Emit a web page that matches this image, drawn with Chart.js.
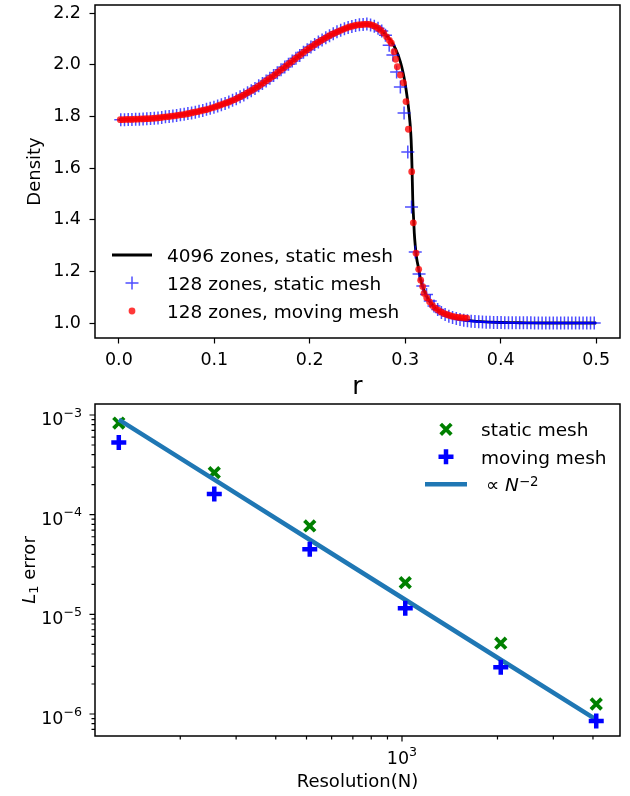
<!DOCTYPE html>
<html>
<head>
<meta charset="utf-8">
<title>Density profile and L1 error convergence</title>
<script src="https://cdn.jsdelivr.net/npm/chart.js@4.4.1/dist/chart.umd.min.js"></script>
<style>
  html, body { margin: 0; padding: 0; background: #fff; }
  #wrap { position: relative; width: 630px; height: 796px; }
  canvas { position: absolute; left: 0; }
  #densityChart { top: 0; }
  #errorChart { top: 398px; }
</style>
</head>
<body>
<div id="wrap">
  <canvas id="densityChart" width="630" height="398"></canvas>
  <canvas id="errorChart" width="630" height="398"></canvas>
</div>
<script>
// ---- Top panel: density profiles ----

// 4096 zones, static mesh (reference solution)
const exactR = [
  0.000, 0.010, 0.020, 0.030, 0.040, 0.050, 0.060, 0.070, 0.080, 0.090,
  0.100, 0.110, 0.120, 0.130, 0.140, 0.150, 0.160, 0.170, 0.180, 0.190,
  0.200, 0.210, 0.220, 0.230, 0.240, 0.250, 0.260, 0.265, 0.270, 0.275,
  0.280, 0.285, 0.290, 0.295, 0.298, 0.300, 0.302, 0.304, 0.3058, 0.3065,
  0.3071, 0.3079, 0.3087, 0.3095, 0.3105, 0.312, 0.3137, 0.316, 0.3208, 0.325,
  0.330, 0.335, 0.340, 0.350, 0.360, 0.370, 0.380, 0.400, 0.420, 0.450, 0.500
];
const exactRho = [
  1.787, 1.788, 1.789, 1.791, 1.794, 1.798, 1.803, 1.809, 1.816, 1.825,
  1.835, 1.848, 1.863, 1.881, 1.902, 1.926, 1.952, 1.980, 2.009, 2.038,
  2.065, 2.090, 2.111, 2.129, 2.144, 2.154, 2.157, 2.154, 2.146, 2.133,
  2.114, 2.092, 2.060, 2.010, 1.965, 1.925, 1.875, 1.815, 1.735, 1.680,
  1.605, 1.476, 1.410, 1.348, 1.300, 1.250, 1.217, 1.170, 1.116, 1.087,
  1.063, 1.047, 1.036, 1.022, 1.013, 1.008, 1.005, 1.002, 1.001, 1.000, 1.000
];

// 128 zones, static mesh
const staticR = [
  0.0020, 0.0059, 0.0098, 0.0137, 0.0176, 0.0215, 0.0254, 0.0293,
  0.0332, 0.0371, 0.0410, 0.0449, 0.0488, 0.0527, 0.0566, 0.0605,
  0.0645, 0.0684, 0.0723, 0.0762, 0.0801, 0.0840, 0.0879, 0.0918,
  0.0957, 0.0996, 0.1035, 0.1074, 0.1113, 0.1152, 0.1191, 0.1230,
  0.1270, 0.1309, 0.1348, 0.1387, 0.1426, 0.1465, 0.1504, 0.1543,
  0.1582, 0.1621, 0.1660, 0.1699, 0.1738, 0.1777, 0.1816, 0.1855,
  0.1895, 0.1934, 0.1973, 0.2012, 0.2051, 0.2090, 0.2129, 0.2168,
  0.2207, 0.2246, 0.2285, 0.2324, 0.2363, 0.2402, 0.2441, 0.2480,
  0.2520, 0.2559, 0.2598, 0.2637, 0.2676, 0.2715, 0.2754, 0.2793,
  0.2832, 0.2871, 0.2910, 0.2949, 0.2988, 0.3027, 0.3066, 0.3105,
  0.3145, 0.3184, 0.3223, 0.3262, 0.3301, 0.3340, 0.3379, 0.3418,
  0.3457, 0.3496, 0.3535, 0.3574, 0.3613, 0.3652, 0.3691, 0.3730,
  0.3770, 0.3809, 0.3848, 0.3887, 0.3926, 0.3965, 0.4004, 0.4043,
  0.4082, 0.4121, 0.4160, 0.4199, 0.4238, 0.4277, 0.4316, 0.4355,
  0.4395, 0.4434, 0.4473, 0.4512, 0.4551, 0.4590, 0.4629, 0.4668,
  0.4707, 0.4746, 0.4785, 0.4824, 0.4863, 0.4902, 0.4941, 0.4980
];
const staticRho = [
  1.787, 1.787, 1.788, 1.788, 1.789, 1.789, 1.790, 1.791,
  1.792, 1.793, 1.794, 1.796, 1.798, 1.799, 1.801, 1.803,
  1.806, 1.808, 1.811, 1.813, 1.816, 1.820, 1.823, 1.827,
  1.831, 1.835, 1.840, 1.845, 1.850, 1.856, 1.862, 1.868,
  1.876, 1.883, 1.891, 1.899, 1.908, 1.918, 1.927, 1.937,
  1.947, 1.958, 1.969, 1.980, 1.991, 2.002, 2.014, 2.025,
  2.036, 2.048, 2.058, 2.068, 2.078, 2.088, 2.096, 2.104,
  2.112, 2.120, 2.127, 2.133, 2.139, 2.144, 2.148, 2.152,
  2.155, 2.156, 2.157, 2.154, 2.149, 2.141, 2.130, 2.114,
  2.075, 2.037, 1.972, 1.914, 1.813, 1.662, 1.449, 1.275,
  1.190, 1.143, 1.110, 1.085, 1.066, 1.052, 1.041, 1.033,
  1.026, 1.021, 1.017, 1.014, 1.011, 1.009, 1.007, 1.006,
  1.005, 1.004, 1.003, 1.003, 1.002, 1.002, 1.002, 1.001,
  1.001, 1.001, 1.001, 1.001, 1.001, 1.001, 1.001, 1.000,
  1.000, 1.000, 1.000, 1.000, 1.000, 1.000, 1.000, 1.000,
  1.000, 1.000, 1.000, 1.000, 1.000, 1.000, 1.000, 1.000
];

// 128 zones, moving mesh
const movingR = [
  0.0015, 0.0045, 0.0075, 0.0105, 0.0135, 0.0165, 0.0195, 0.0225, 0.0255, 0.0285,
  0.0315, 0.0345, 0.0375, 0.0405, 0.0435, 0.0465, 0.0495, 0.0525, 0.0555, 0.0585,
  0.0615, 0.0645, 0.0675, 0.0705, 0.0735, 0.0765, 0.0795, 0.0825, 0.0855, 0.0885,
  0.0915, 0.0945, 0.0975, 0.1005, 0.1035, 0.1065, 0.1095, 0.1125, 0.1155, 0.1185,
  0.1215, 0.1245, 0.1275, 0.1305, 0.1335, 0.1365, 0.1395, 0.1425, 0.1455, 0.1485,
  0.1515, 0.1545, 0.1575, 0.1605, 0.1635, 0.1665, 0.1695, 0.1725, 0.1755, 0.1785,
  0.1815, 0.1845, 0.1875, 0.1905, 0.1935, 0.1965, 0.1995, 0.2025, 0.2055, 0.2085,
  0.2115, 0.2145, 0.2175, 0.2205, 0.2235, 0.2265, 0.2295, 0.2325, 0.2355, 0.2385,
  0.2415, 0.2445, 0.2475, 0.2505, 0.2535, 0.2565, 0.2595, 0.2625, 0.2655, 0.2685,
  0.2715, 0.2745, 0.2775, 0.2805, 0.2835,
  0.2855, 0.2883, 0.2900, 0.2917, 0.2950, 0.2980, 0.3008, 0.3033, 0.3068, 0.3085,
  0.3113, 0.3141, 0.3162, 0.3183, 0.3197,
  0.3225, 0.3255, 0.3285, 0.3315, 0.3345, 0.3375, 0.3405, 0.3435, 0.3465, 0.3495,
  0.3525, 0.3555, 0.3585, 0.3615, 0.3645
];
const movingRho = [
  1.787, 1.787, 1.788, 1.788, 1.788, 1.789, 1.789, 1.790, 1.790, 1.791,
  1.791, 1.792, 1.793, 1.794, 1.795, 1.797, 1.798, 1.799, 1.801, 1.802,
  1.804, 1.806, 1.807, 1.809, 1.811, 1.814, 1.816, 1.818, 1.821, 1.824,
  1.826, 1.829, 1.833, 1.836, 1.840, 1.844, 1.848, 1.852, 1.856, 1.861,
  1.865, 1.871, 1.876, 1.882, 1.889, 1.895, 1.901, 1.908, 1.915, 1.922,
  1.930, 1.938, 1.946, 1.953, 1.961, 1.970, 1.979, 1.987, 1.996, 2.005,
  2.013, 2.022, 2.031, 2.039, 2.048, 2.056, 2.064, 2.071, 2.079, 2.086,
  2.093, 2.099, 2.106, 2.112, 2.118, 2.123, 2.128, 2.133, 2.138, 2.142,
  2.146, 2.149, 2.152, 2.154, 2.155, 2.156, 2.157, 2.156, 2.153, 2.148,
  2.141, 2.133, 2.122, 2.108, 2.094,
  2.083, 2.050, 2.021, 1.992, 1.960, 1.930, 1.857, 1.750, 1.586, 1.388,
  1.270, 1.208, 1.166, 1.141, 1.115,
  1.098, 1.082, 1.068, 1.058, 1.050, 1.043, 1.037, 1.033, 1.029, 1.026,
  1.024, 1.022, 1.021, 1.020, 1.019
];

// ---- Bottom panel: L1 error vs resolution ----
const resolution = [128, 256, 512, 1024, 2048, 4096];
const staticErr = [8.3e-4, 2.64e-4, 7.7e-5, 2.08e-5, 5.13e-6, 1.26e-6];
const movingErr = [5.3e-4, 1.61e-4, 4.49e-5, 1.15e-5, 2.95e-6, 8.5e-7];
const fitErr = [9.0e-4, 2.25e-4, 5.6e-5, 1.4e-5, 3.5e-6, 8.8e-7];

// log axis ticks and their labels
const errorTicks = [1e-6, 1e-5, 1e-4, 1e-3];
const errorTickLabels = [["10", "\u22126"], ["10", "\u22125"], ["10", "\u22124"], ["10", "\u22123"]];
const errorMinorTicks = [
  7e-7, 8e-7, 9e-7,
  2e-6, 3e-6, 4e-6, 5e-6, 6e-6, 7e-6, 8e-6, 9e-6,
  2e-5, 3e-5, 4e-5, 5e-5, 6e-5, 7e-5, 8e-5, 9e-5,
  2e-4, 3e-4, 4e-4, 5e-4, 6e-4, 7e-4, 8e-4, 9e-4
];
const resolutionTicks = [1000];
const resolutionTickLabels = [["10", "3"]];
const resolutionMinorTicks = [200, 300, 400, 500, 600, 700, 800, 900, 2000, 3000, 4000];

const FONT = '"DejaVu Sans", "Liberation Sans", sans-serif';
Chart.defaults.font.family = FONT;
Chart.defaults.color = "#000";

function pairs(xs, ys) {
  return xs.map((x, i) => ({ x: x, y: ys[i] }));
}

// fixed axis sizes, no extra label overhang padding
function fixY(s) {
  s.width = 95;
  s.paddingTop = 0;
  s.paddingBottom = 0;
}
function fixX(s) {
  s.height = 60;
  s.paddingLeft = 0;
  s.paddingRight = 0;
}

// draw a run of text pieces (normal / italic / super / sub) from x on baseline y
function drawParts(ctx, parts, x, y, size) {
  parts.forEach((p) => {
    if (p.dx) x += p.dx;
    if (!p.t) return;
    const s = p.sup || p.sub ? size * 0.72 : size;
    ctx.font = (p.italic ? "italic " : "") + s + "px " + FONT;
    let dy = 0;
    if (p.sup) dy = -(p.raise || 0.45) * size;
    if (p.sub) dy = 0.17 * size;
    ctx.fillText(p.t, x, y + dy);
    x += ctx.measureText(p.t).width;
  });
  return x;
}

function partsWidth(ctx, parts, size) {
  let w = 0;
  parts.forEach((p) => {
    if (p.dx) w += p.dx;
    if (!p.t) return;
    const s = p.sup || p.sub ? size * 0.72 : size;
    ctx.font = (p.italic ? "italic " : "") + s + "px " + FONT;
    w += ctx.measureText(p.t).width;
  });
  return w;
}

function drawMarker(ctx, style, x, y, r, stroke, fill, lw) {
  ctx.beginPath();
  if (style === "circle") {
    ctx.arc(x, y, r, 0, Math.PI * 2);
    ctx.fillStyle = fill;
    ctx.fill();
    return;
  }
  if (style === "crossRot") {
    const d = r * Math.SQRT1_2;
    ctx.moveTo(x - d, y - d);
    ctx.lineTo(x + d, y + d);
    ctx.moveTo(x - d, y + d);
    ctx.lineTo(x + d, y - d);
  } else {
    ctx.moveTo(x - r, y);
    ctx.lineTo(x + r, y);
    ctx.moveTo(x, y - r);
    ctx.lineTo(x, y + r);
  }
  ctx.strokeStyle = stroke;
  ctx.lineWidth = lw;
  ctx.stroke();
}

// full box round the plot area (matplotlib spines)
const framePlugin = {
  id: "frame",
  afterDatasetsDraw(chart) {
    const { ctx, chartArea: a } = chart;
    ctx.save();
    ctx.strokeStyle = "#000";
    ctx.lineWidth = 1.5;
    ctx.strokeRect(a.left, a.top, a.right - a.left, a.bottom - a.top);
    ctx.restore();
  },
};

// legend inside the axes, no frame
const figLegendPlugin = {
  id: "figLegend",
  afterDraw(chart, args, opts) {
    const ctx = chart.ctx;
    ctx.save();
    ctx.fillStyle = "#000";
    ctx.textBaseline = "alphabetic";
    chart.data.datasets.forEach((ds, i) => {
      const cy = opts.top + i * opts.rowGap;
      if (ds.showLine) {
        ctx.beginPath();
        ctx.moveTo(opts.sampleX - opts.sampleHalf, cy);
        ctx.lineTo(opts.sampleX + opts.sampleHalf, cy);
        ctx.strokeStyle = ds.borderColor;
        ctx.lineWidth = ds.borderWidth;
        ctx.stroke();
      } else {
        drawMarker(ctx, ds.pointStyle, opts.sampleX, cy, ds.pointRadius,
          ds.pointBorderColor, ds.pointBackgroundColor, ds.pointBorderWidth);
      }
      ctx.fillStyle = "#000";
      const parts = ds.mathLabel || [{ t: ds.label }];
      drawParts(ctx, parts, opts.textX, cy + 7, opts.fontSize);
    });
    ctx.restore();
  },
};

// ticks, tick labels and y label for the log-log panel
const logAxesPlugin = {
  id: "logAxes",
  afterDraw(chart) {
    const { ctx, chartArea: a, scales } = chart;
    const x = scales.x, y = scales.y;
    ctx.save();
    ctx.strokeStyle = "#000";
    ctx.lineWidth = 1.2;
    ctx.beginPath();
    errorMinorTicks.forEach((v) => {
      const py = y.getPixelForValue(v);
      ctx.moveTo(a.left - 3.5, py);
      ctx.lineTo(a.left, py);
    });
    errorTicks.forEach((v) => {
      const py = y.getPixelForValue(v);
      ctx.moveTo(a.left - 5.5, py);
      ctx.lineTo(a.left, py);
    });
    resolutionMinorTicks.forEach((v) => {
      const px = x.getPixelForValue(v);
      ctx.moveTo(px, a.bottom);
      ctx.lineTo(px, a.bottom + 3.5);
    });
    resolutionTicks.forEach((v) => {
      const px = x.getPixelForValue(v);
      ctx.moveTo(px, a.bottom);
      ctx.lineTo(px, a.bottom + 5.5);
    });
    ctx.stroke();

    ctx.fillStyle = "#000";
    ctx.textBaseline = "alphabetic";
    const size = 17.5;
    errorTicks.forEach((v, i) => {
      const py = y.getPixelForValue(v);
      const parts = [{ t: errorTickLabels[i][0] }, { t: errorTickLabels[i][1], sup: true, raise: 0.47 }];
      const w = partsWidth(ctx, parts, size);
      drawParts(ctx, parts, 82 - w, py + 10, size);
    });
    resolutionTicks.forEach((v, i) => {
      const px = x.getPixelForValue(v);
      const parts = [{ t: resolutionTickLabels[i][0] }, { t: resolutionTickLabels[i][1], sup: true, raise: 0.46 }];
      const w = partsWidth(ctx, parts, size);
      drawParts(ctx, parts, px - w / 2, a.bottom + 28, size);
    });

    // y label: L_1 error
    const label = [{ t: "L", italic: true }, { t: "1", sub: true }, { t: " error" }];
    const lw = partsWidth(ctx, label, 18);
    ctx.translate(34.5, (a.top + a.bottom) / 2);
    ctx.rotate(-Math.PI / 2);
    drawParts(ctx, label, -lw / 2, 0, 18);
    ctx.restore();
  },
};

// Density chart
new Chart(document.getElementById("densityChart"), {
  type: "scatter",
  data: {
    datasets: [
      {
        label: "4096 zones, static mesh",
        data: pairs(exactR, exactRho),
        showLine: true,
        borderColor: "#000000",
        borderWidth: 2.8,
        pointRadius: 0,
        cubicInterpolationMode: "monotone",
        order: 3,
      },
      {
        label: "128 zones, static mesh",
        data: pairs(staticR, staticRho),
        pointStyle: "cross",
        pointRadius: 6.5,
        pointBorderColor: "rgba(0, 0, 255, 0.7)",
        pointBorderWidth: 1.5,
        order: 2,
      },
      {
        label: "128 zones, moving mesh",
        data: pairs(movingR, movingRho),
        pointStyle: "circle",
        pointRadius: 3.4,
        pointBackgroundColor: "rgba(255, 0, 0, 0.78)",
        pointBorderWidth: 0,
        order: 1,
      },
    ],
  },
  options: {
    responsive: false,
    animation: false,
    devicePixelRatio: 1,
    events: [],
    layout: { autoPadding: false, padding: { left: 0, right: 10, top: 5, bottom: 0 } },
    plugins: {
      legend: { display: false },
      tooltip: { enabled: false },
      figLegend: { top: 255, rowGap: 28, sampleX: 132, sampleHalf: 20, textX: 167, fontSize: 18.5 },
    },
    scales: {
      x: {
        type: "linear",
        min: -0.025,
        max: 0.525,
        afterFit: fixX,
        border: { display: false },
        grid: { drawOnChartArea: false, drawTicks: true, tickLength: 5.5, tickWidth: 1.2, tickColor: "#000" },
        ticks: {
          stepSize: 0.1,
          includeBounds: false,
          padding: 6.5,
          font: { size: 17.5 },
          callback: (v) => v.toFixed(1),
        },
        title: { display: true, text: "r", font: { size: 25, lineHeight: 0.85 }, padding: 0 },
      },
      y: {
        type: "linear",
        min: 0.942,
        max: 2.231,
        afterFit: fixY,
        border: { display: false },
        grid: { drawOnChartArea: false, drawTicks: true, tickLength: 5.5, tickWidth: 1.2, tickColor: "#000" },
        ticks: {
          stepSize: 0.2,
          includeBounds: false,
          padding: 8.5,
          font: { size: 17.5 },
          callback: (v) => v.toFixed(1),
        },
        title: { display: true, text: "Density", font: { size: 18 }, padding: { top: 25, bottom: 0 } },
      },
    },
  },
  plugins: [framePlugin, figLegendPlugin],
});

// L1 error chart
new Chart(document.getElementById("errorChart"), {
  type: "scatter",
  data: {
    datasets: [
      {
        label: "static mesh",
        data: pairs(resolution, staticErr),
        pointStyle: "crossRot",
        pointRadius: 7.5,
        pointBorderColor: "#008000",
        pointBorderWidth: 3.8,
        order: 3,
      },
      {
        label: "moving mesh",
        data: pairs(resolution, movingErr),
        pointStyle: "cross",
        pointRadius: 7.5,
        pointBorderColor: "#0000ff",
        pointBorderWidth: 4.5,
        order: 1,
      },
      {
        label: "\u221D N\u207B\u00B2",
        mathLabel: [{ dx: 5, t: "\u221D " }, { t: "N", italic: true }, { t: "\u22122", sup: true, raise: 0.31 }],
        data: pairs(resolution, fitErr),
        showLine: true,
        borderColor: "#1f77b4",
        borderWidth: 4.5,
        pointRadius: 0,
        order: 2,
      },
    ],
  },
  options: {
    responsive: false,
    animation: false,
    devicePixelRatio: 1,
    events: [],
    layout: { autoPadding: false, padding: { left: 0, right: 10, top: 6, bottom: 0 } },
    plugins: {
      legend: { display: false },
      tooltip: { enabled: false },
      figLegend: { top: 31.3, rowGap: 27.5, sampleX: 446, sampleHalf: 21, textX: 481, fontSize: 18.5 },
    },
    scales: {
      x: {
        type: "logarithmic",
        min: 107.7,
        max: 4867,
        afterFit: fixX,
        border: { display: false },
        grid: { display: false },
        ticks: { display: false },
        title: { display: true, text: "Resolution(N)", font: { size: 18 }, padding: { top: 0, bottom: 2.5 } },
      },
      y: {
        type: "logarithmic",
        min: 6.016e-7,
        max: 1.289e-3,
        afterFit: fixY,
        border: { display: false },
        grid: { display: false },
        ticks: { display: false },
      },
    },
  },
  plugins: [framePlugin, figLegendPlugin, logAxesPlugin],
});
</script>
</body>
</html>
